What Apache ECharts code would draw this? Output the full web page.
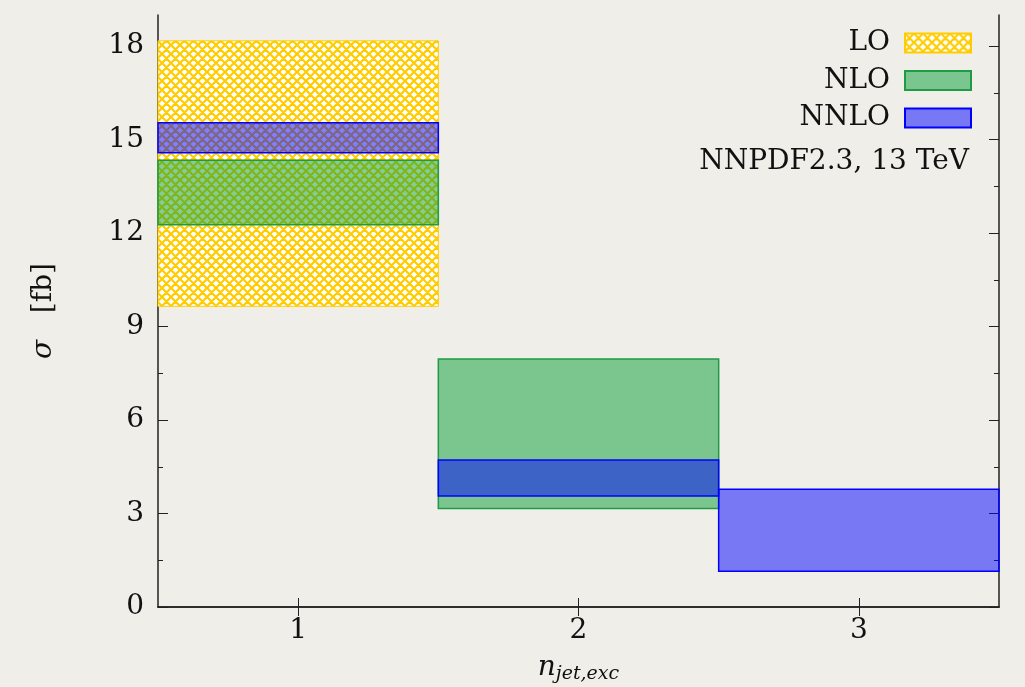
<!DOCTYPE html>
<html>
<head>
<meta charset="utf-8">
<script src="https://cdn.jsdelivr.net/npm/echarts@6/dist/echarts.min.js"></script>
<style>
html,body{margin:0;padding:0;background:#f0eee9;}
#chart{width:1025px;height:687px;}
</style>
</head>
<body>
<div id="chart"></div>
<script>
// ---- data ----
var categories = ['1', '2', '3'];
var loLow    = [9.65, null, null];
var loHigh   = [18.17, null, null];
var nloLow   = [12.27, 3.16, null];
var nloHigh  = [14.34, 7.96, null];
var nnloLow  = [14.58, 3.56, 1.15];
var nnloHigh = [15.54, 4.72, 3.78];
var yMajorTicks = [0, 3, 6, 9, 12, 15, 18];
var yMinorTicks = [1.5, 4.5, 7.5, 10.5, 13.5, 16.5];
var annotation = 'NNPDF2.3, 13 TeV';

// ---- hatch pattern ----
function makeHatch() {
  var n = 9, c = document.createElement('canvas');
  c.width = n; c.height = n;
  var g = c.getContext('2d');
  g.fillStyle = '#ffffff';
  g.fillRect(0, 0, n, n);
  g.strokeStyle = '#ffcc00';
  g.lineWidth = 2.2;
  g.beginPath();
  for (var k = -1; k <= 1; k++) {
    g.moveTo(k * n, 0); g.lineTo(k * n + n, n);
    g.moveTo(k * n + n, 0); g.lineTo(k * n, n);
  }
  g.stroke();
  return c;
}
var hatch = { image: makeHatch(), repeat: 'repeat' };

function bandData(lo, hi) {
  var out = [];
  for (var i = 0; i < lo.length; i++) {
    if (lo[i] != null && hi[i] != null) out.push([i, lo[i], hi[i]]);
  }
  return out;
}

function renderBand(params, api) {
  var idx = api.value(0);
  var p1 = api.coord([idx, api.value(2)]);
  var p0 = api.coord([idx, api.value(1)]);
  var w = api.size([1, 0])[0];
  return {
    type: 'rect',
    shape: { x: p1[0] - w / 2, y: p1[1], width: w, height: p0[1] - p1[1] },
    style: api.style()
  };
}

var serif = 'DejaVu Serif';
var axisColor = '#222';
var fs = 28;

var chart = echarts.init(document.getElementById('chart'));
chart.setOption({
  backgroundColor: '#f0eee9',
  animation: false,
  textStyle: { fontFamily: serif },
  grid: { left: 158, right: 26, top: 15, bottom: 80, containLabel: false, outerBoundsMode: 'none' },
  legend: {
    orient: 'vertical',
    align: 'right',
    right: 53,
    top: 29,
    padding: 0,
    icon: 'rect',
    itemWidth: 66,
    itemHeight: 19,
    itemGap: 9.5,
    textStyle: { fontFamily: serif, fontSize: fs, color: '#111', padding: [0, 10, 0, 0] },
    data: ['LO', 'NLO', 'NNLO']
  },
  graphic: [{
    type: 'text',
    right: 56,
    top: 148,
    style: { text: annotation, font: fs + 'px "DejaVu Serif"', fill: '#111' }
  }],
  xAxis: [{
    type: 'category',
    data: categories,
    boundaryGap: true,
    position: 'bottom',
    axisLine: { show: true, lineStyle: { color: axisColor, width: 1.5 } },
    axisTick: { show: true, inside: true, alignWithLabel: true, length: 9, lineStyle: { color: axisColor } },
    axisLabel: { fontFamily: serif, fontSize: fs, color: '#111', margin: 10 },
    splitLine: { show: false },
    name: '{n|n}{s|jet,exc}',
    nameLocation: 'middle',
    nameGap: 44,
    nameTextStyle: {
      rich: {
        n: { fontFamily: serif, fontStyle: 'italic', fontSize: fs, color: '#111' },
        s: { fontFamily: serif, fontStyle: 'italic', fontSize: 19, color: '#111', padding: [14, 0, 0, 0] }
      }
    }
  }, {
    type: 'category',
    data: categories,
    boundaryGap: true,
    position: 'top',
    axisLine: { show: true, lineStyle: { color: axisColor, width: 1.5 } },
    axisTick: { show: true, inside: true, alignWithLabel: true, length: 9, lineStyle: { color: axisColor } },
    axisLabel: { show: false },
    splitLine: { show: false }
  }],
  yAxis: [{
    type: 'value',
    min: 0, max: 19, interval: 3,
    position: 'left',
    axisLine: { show: true, lineStyle: { color: axisColor, width: 1.5 } },
    axisTick: { show: true, inside: true, length: 10, customValues: yMajorTicks, lineStyle: { color: axisColor } },
    axisLabel: { fontFamily: serif, fontSize: fs, color: '#111', margin: 14, customValues: yMajorTicks },
    splitLine: { show: false },
    name: '{g|σ}   [fb]',
    nameLocation: 'middle',
    nameGap: 100,
    nameRotate: 90,
    nameTextStyle: {
      fontFamily: serif, fontSize: fs, color: '#111',
      rich: { g: { fontFamily: serif, fontStyle: 'italic', fontSize: fs, color: '#111' } }
    }
  }, {
    type: 'value',
    min: 0, max: 19, interval: 3,
    position: 'right',
    axisLine: { show: true, lineStyle: { color: axisColor, width: 1.5 } },
    axisTick: { show: true, inside: true, length: 10, customValues: yMajorTicks, lineStyle: { color: axisColor } },
    axisLabel: { show: false },
    splitLine: { show: false }
  }, {
    type: 'value',
    min: 0, max: 19,
    position: 'left',
    axisLine: { show: false },
    axisTick: { show: true, inside: true, length: 5, customValues: yMinorTicks, lineStyle: { color: axisColor } },
    axisLabel: { show: false },
    splitLine: { show: false }
  }, {
    type: 'value',
    min: 0, max: 19,
    position: 'right',
    axisLine: { show: false },
    axisTick: { show: true, inside: true, length: 5, customValues: yMinorTicks, lineStyle: { color: axisColor } },
    axisLabel: { show: false },
    splitLine: { show: false }
  }],
  series: [{
    name: 'LO',
    type: 'custom',
    xAxisIndex: 0, yAxisIndex: 0,
    renderItem: renderBand,
    itemStyle: { color: hatch, borderColor: '#ffcc00', borderWidth: 1 },
    encode: { x: 0, y: [1, 2] },
    data: bandData(loLow, loHigh),
    z: 1
  }, {
    name: 'NLO',
    type: 'custom',
    xAxisIndex: 0, yAxisIndex: 0,
    renderItem: renderBand,
    itemStyle: { color: 'rgba(6,158,54,0.5)', borderColor: '#1f9a45', borderWidth: 1.5 },
    encode: { x: 0, y: [1, 2] },
    data: bandData(nloLow, nloHigh),
    z: 2
  }, {
    name: 'NNLO',
    type: 'custom',
    xAxisIndex: 0, yAxisIndex: 0,
    renderItem: renderBand,
    itemStyle: { color: 'rgba(0,0,255,0.5)', borderColor: '#0000ff', borderWidth: 1.5 },
    encode: { x: 0, y: [1, 2] },
    data: bandData(nnloLow, nnloHigh),
    z: 3
  }]
});
</script>
</body>
</html>
